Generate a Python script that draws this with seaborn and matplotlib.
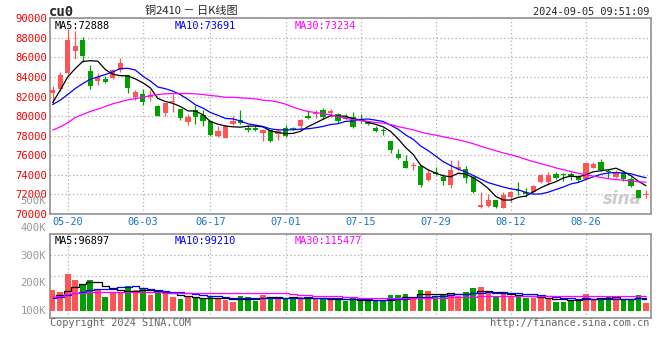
import numpy as np
import pandas as pd
import seaborn as sns
import matplotlib.pyplot as plt
import matplotlib.transforms as mtransforms

# ---- data ----
# trading days on screen (06-10 Dragon Boat holiday closed)
dates = pd.bdate_range("2024-05-16", "2024-09-05").drop(pd.Timestamp("2024-06-10"))
day_labels = list(dates.strftime("%m-%d"))
tick_days = ["05-20", "06-03", "06-17", "07-01", "07-15", "07-29", "08-12", "08-26"]

opens = [82376, 82750, 84450, 86660, 87748, 84586, 83600, 83770, 83906, 84688,
         84178, 81968, 82308, 81950, 81050, 80336, 81458, 80710, 79418, 80676,
         80166, 79486, 77990, 77786, 79214, 79656, 78806, 78738, 78296, 78534,
         78126, 78738, 78772, 79010, 80030, 80200, 80676, 80370, 80268, 79950,
         79900, 79650, 79420, 78810, 78550, 77450, 76120, 75440, 74880, 74900,
         73468, 74318, 73808, 72958, 74556, 74556, 73808, 70748, 70850, 71428,
         70650, 71750, 72450, 72210, 72250, 73300, 73300, 74080, 74050, 74110,
         73840, 73600, 74750, 75340, 74350, 73810, 74220, 73540, 72450, 71950]
highs = [83056, 84518, 88938, 88666, 88054, 85198, 84450, 84076, 84858, 85946,
         84246, 82682, 82750, 82650, 81190, 81390, 82274, 80778, 80268, 81186,
         80676, 79554, 79010, 79078, 79996, 80608, 79146, 79146, 78636, 78602,
         78636, 79078, 78942, 79690, 80608, 80608, 80846, 80710, 80370, 80270,
         80440, 80270, 79500, 78980, 78740, 77480, 76600, 76020, 75340, 74950,
         74590, 74828, 74046, 75508, 75508, 74896, 73876, 72278, 72006, 71430,
         72280, 72280, 73250, 72620, 72960, 74050, 74320, 74320, 74150, 74250,
         73980, 75250, 75340, 75610, 74560, 74490, 74250, 73800, 72500, 72450]
lows = [81288, 82546, 84348, 85878, 85538, 82818, 83158, 83396, 83838, 84518,
        82376, 81628, 81186, 81500, 79990, 80030, 80438, 79588, 79078, 79248,
        78976, 77990, 77820, 77718, 79078, 79248, 78398, 78466, 77480, 77378,
        77548, 77888, 78534, 78568, 79690, 79826, 79758, 79928, 79350, 79660,
        78740, 79250, 79080, 78330, 78060, 76260, 75610, 74660, 74490, 72790,
        73400, 73978, 72958, 72618, 74488, 73196, 72108, 70578, 70748, 70646,
        70600, 71260, 71950, 71770, 72110, 73130, 72960, 73570, 73400, 73470,
        73300, 73450, 74660, 74390, 73640, 73640, 73400, 72790, 71600, 71600]
closes = [82648, 84246, 87748, 87136, 86150, 83056, 84008, 83498, 84688, 85470,
          82886, 82512, 81458, 82150, 80030, 81356, 81560, 79826, 79928, 79928,
          79486, 78058, 78500, 79010, 79486, 79316, 78568, 78568, 78568, 77446,
          78500, 77990, 78670, 79656, 79826, 80336, 79928, 80506, 79486, 79750,
          78910, 79550, 79150, 78470, 78470, 76530, 75750, 74730, 74960, 72960,
          74148, 74046, 73400, 74488, 74760, 73706, 72210, 70918, 71428, 70680,
          71900, 72210, 72350, 72000, 72870, 73980, 73980, 73640, 73980, 73810,
          73500, 75200, 75100, 74490, 74300, 74320, 73540, 72890, 71670, 72010]

# volume in thousands, as drawn against the chart's K axis
volumes = [175, 169, 232, 212, 194, 212, 178, 151, 169, 169,
           190, 175, 178, 157, 166, 166, 151, 143, 149, 149,
           143, 149, 145, 139, 133, 154, 149, 137, 157, 149,
           151, 145, 145, 149, 145, 141, 147, 139, 141, 137,
           145, 139, 135, 135, 135, 157, 157, 161, 147, 175,
           172, 151, 157, 166, 154, 168, 183, 186, 163, 149,
           163, 151, 154, 145, 147, 147, 147, 133, 133, 139,
           139, 161, 139, 145, 149, 147, 139, 139, 157, 129]
vol_base = 100

# moving-average values before enough history is on screen
ma5_head = [81390, 82650, 84010, 84860]
ma10_head = [81190, 81630, 82210, 82820, 83330, 83770, 84010, 84250, 84520]
ma30_head = [78570, 78910, 79320, 79870, 80170, 80480, 80710, 80990, 81260, 81460,
             81670, 81800, 81900, 82110, 82210, 82280, 82310, 82310, 82310, 82280,
             82210, 82110, 82040, 81930, 81930, 81870, 81830, 81760, 81630]
vma5_head = [151, 157, 173, 185]
vma10_head = [145, 149, 157, 163, 169, 175, 178, 179, 180]
vma30_head = [149, 154, 161, 163, 166, 168, 169, 169, 169, 168,
              168, 168, 168, 168, 168, 166, 166, 166, 166, 166,
              166, 163, 163, 163, 163, 163, 163, 163, 163]

price_ma_text = ["MA5:72888", "MA10:73691", "MA30:73234"]
vol_ma_text = ["MA5:96897", "MA10:99210", "MA30:115477"]
price_ticks = list(range(70000, 90001, 2000))
vol_ticks = [100, 200, 300, 400, 500]


def with_head(series, n, head):
    ma = pd.Series(series, dtype=float).rolling(n).mean()
    ma.iloc[:len(head)] = head
    return ma.values


df = pd.DataFrame({"x": np.arange(len(closes)), "open": opens, "high": highs,
                   "low": lows, "close": closes, "vol": volumes})
df["ma5"] = with_head(closes, 5, ma5_head)
df["ma10"] = with_head(closes, 10, ma10_head)
df["ma30"] = with_head(closes, 30, ma30_head)
df["vma5"] = with_head(volumes, 5, vma5_head)
df["vma10"] = with_head(volumes, 10, vma10_head)
df["vma30"] = with_head(volumes, 30, vma30_head)

# ---- style ----
sns.set_style("white")
MONO = "DejaVu Sans Mono"
plt.rcParams["font.family"] = [MONO, "DejaVu Sans"]
RED = "#ff5555"
GREEN = "#00a000"
GRID = "#b0b0b0"
FRAME = "#999999"
MA_COLORS = ["#000000", "#0000ff", "#ff00ff"]

W, H = 660, 360
fig = plt.figure(figsize=(W / 100, H / 100), dpi=100)
L, R = 50.3, 650.5
ax1 = fig.add_axes([L / W, 1 - 214 / H, (R - L) / W, (214 - 18.3) / H])
ax2 = fig.add_axes([L / W, 1 - 318.3 / H, (R - L) / W, 84 / H])

up = df["close"] >= df["open"]
colors = np.where(up, RED, GREEN)
tick_pos = [day_labels.index(d) for d in tick_days]

# price panel
ax1.vlines(df["x"], df["low"], df["high"], colors=colors, lw=0.9, zorder=3)
body_lo = np.minimum(df["open"], df["close"])
body_h = np.maximum((df["close"] - df["open"]).abs(), 90)
ax1.bar(df["x"], body_h, bottom=body_lo, width=0.7, color=colors, lw=0, zorder=3)
for col, c in zip(["ma5", "ma10", "ma30"], MA_COLORS):
    sns.lineplot(data=df, x="x", y=col, color=c, lw=0.9, ax=ax1, zorder=4)

ax1.set_xlim(-0.32, len(closes) - 0.4)
ax1.set_ylim(price_ticks[0], price_ticks[-1])
ax1.set_yticks(price_ticks)
ax1.set_yticklabels([str(v) for v in price_ticks], color="#ee0000", fontsize=7.6)
ax1.set_xticks(tick_pos)
ax1.set_xticklabels(tick_days, color="#1874cd", fontsize=7.4)

# volume panel
ax2.bar(df["x"], df["vol"] - vol_base, bottom=vol_base, width=0.74, color=colors, lw=0, zorder=3)
for col, c in zip(["vma5", "vma10", "vma30"], MA_COLORS):
    sns.lineplot(data=df, x="x", y=col, color=c, lw=0.9, ax=ax2, zorder=4,
                 drawstyle="steps-mid")
ax2.set_xlim(ax1.get_xlim())
ax2.set_ylim(72.4, 377.8)
ax2.set_xticks(tick_pos)
ax2.set_xticklabels([])
lo, hi = ax2.get_ylim()
ax2.set_yticks([lo + (hi - lo) * k / 4 for k in (2, 3)])
ax2.set_yticklabels([])
blend = mtransforms.blended_transform_factory(ax2.transAxes, ax2.transData)
for v in vol_ticks:
    ax2.text(-0.007, v, f"{v}K", transform=blend, ha="right", va="center",
             color="#999999", fontsize=7.6, clip_on=False)

for ax in (ax1, ax2):
    ax.set_xlabel("")
    ax.set_ylabel("")
    ax.tick_params(length=0, pad=2.5)
    ax.grid(True, color=GRID, ls=(0, (1, 2)), lw=0.9)
    ax.set_axisbelow(True)
    for s in ax.spines.values():
        s.set_visible(True)
        s.set_color(FRAME)
        s.set_linewidth(1.3)

# legend-like MA readouts
xs = [0.008, 0.2078, 0.4077]
for t, c, x in zip(price_ma_text, MA_COLORS, xs):
    ax1.text(x, 0.988, t, transform=ax1.transAxes, color=c, fontsize=7.4, va="top")
for t, c, x in zip(vol_ma_text, MA_COLORS, xs):
    ax2.text(x, 0.985, t, transform=ax2.transAxes, color=c, fontsize=7.4, va="top")

# watermark
ax1.text(0.985, 0.03, "sina", transform=ax1.transAxes, ha="right", va="bottom",
         color="#cccccc", fontsize=12, style="italic", weight="bold",
         family=["DejaVu Sans"], zorder=2)

# headers / footers
fig.text(49 / W, 1 - 11.5 / H, "cu0", ha="left", va="center", fontsize=10, weight="bold")
fig.text(191.7 / W, 1 - 11 / H, "铜2410 － 日K线图", ha="center", va="center",
         fontsize=8, family=["Noto Sans CJK SC", "DejaVu Sans"])
fig.text(649.3 / W, 1 - 11.7 / H, "2024-09-05 09:51:09", ha="right", va="center", fontsize=7.4)
fig.text(50 / W, 1 - 323.5 / H, "Copyright 2024 SINA.COM", ha="left", va="center",
         fontsize=7.4, color="#666666")
fig.text(649.3 / W, 1 - 323.5 / H, "http://finance.sina.com.cn", ha="right", va="center",
         fontsize=7.4, color="#666666")

fig.savefig("out.png", dpi=100, facecolor="white")
